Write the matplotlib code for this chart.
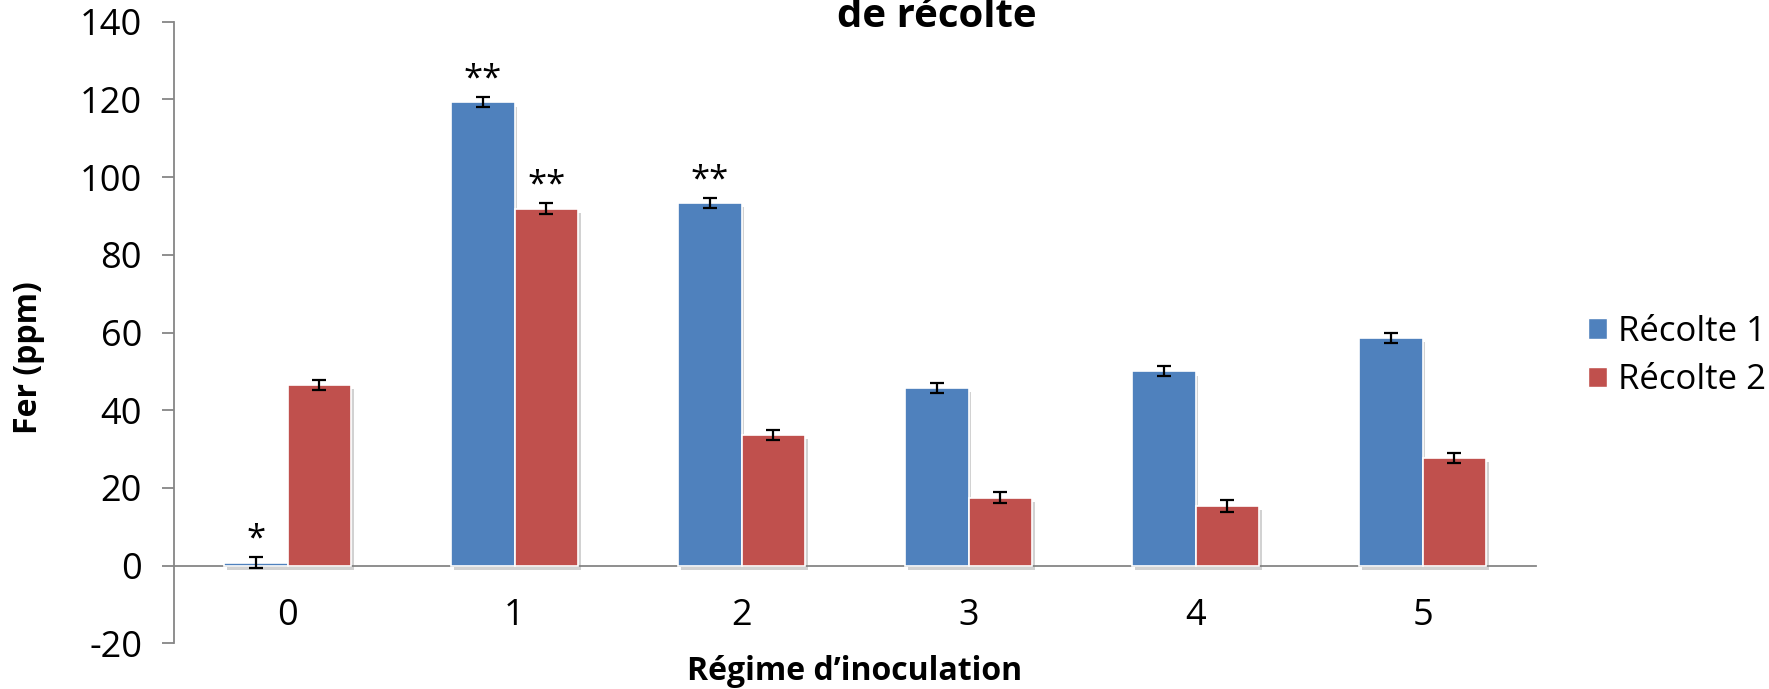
import matplotlib
matplotlib.use("Agg")
import matplotlib.pyplot as plt
import matplotlib.patches as mpatches
import matplotlib.patheffects as pe
import numpy as np

plt.rcParams.update({
    "font.family": ["Open Sans", "DejaVu Sans"],
    "font.size": 26,
    "axes.unicode_minus": False,
})

# ── Data ──────────────────────────────────────────────────────────────────────
regimes = ["0", "1", "2", "3", "4", "5"]
recolte1 = [0.8, 119.2, 93.3, 45.8, 50.0, 58.6]
recolte1_err = [1.4, 1.3, 1.3, 1.3, 1.3, 1.3]
recolte2 = [46.6, 91.9, 33.7, 17.5, 15.4, 27.7]
recolte2_err = [1.3, 1.4, 1.3, 1.4, 1.5, 1.4]
recolte1_sig = ["*", "**", "**", "", "", ""]
recolte2_sig = ["", "**", "", "", "", ""]

COL_R1 = "#4F81BD"
COL_R2 = "#C0504D"
AXIS_GREY = "#868686"

# ── Figure ────────────────────────────────────────────────────────────────────
fig = plt.figure(figsize=(17.69, 6.89), dpi=100)
ax = fig.add_axes([174 / 1769, 45.6 / 689, 1362 / 1769, 621.8 / 689])

x = np.arange(len(regimes))
bar_w = 0.28
shadow = [pe.SimplePatchShadow(offset=(2, -3), shadow_rgbFace="#7f7f7f", alpha=0.35),
          pe.Normal()]

for vals, errs, sig, col, off in [
    (recolte1, recolte1_err, recolte1_sig, COL_R1, -bar_w / 2),
    (recolte2, recolte2_err, recolte2_sig, COL_R2, bar_w / 2),
]:
    bars = ax.bar(x + off, vals, width=bar_w, color=col, edgecolor="white",
                  linewidth=1.2, zorder=3)
    for b in bars:
        b.set_path_effects(shadow)
    ax.errorbar(x + off, vals, yerr=errs, fmt="none", ecolor="black",
                elinewidth=1.6, capsize=4.8, capthick=1.6, zorder=4)
    for xi, v, e, s in zip(x + off, vals, errs, sig):
        if s:
            ax.text(xi, v + e + 2.2, s, ha="center", va="baseline",
                    fontsize=25, color="black", zorder=5)

# ── Axes ──────────────────────────────────────────────────────────────────────
ax.set_xlim(-0.5, len(regimes) - 0.5)
ax.set_ylim(-20, 140)
ax.set_yticks(np.arange(-20, 141, 20))
ax.set_xticks(x)
ax.set_xticklabels(regimes)

for side in ["top", "right"]:
    ax.spines[side].set_visible(False)
ax.spines["left"].set_color(AXIS_GREY)
ax.spines["left"].set_linewidth(1.3)
ax.spines["bottom"].set_position(("data", 0))
ax.spines["bottom"].set_color(AXIS_GREY)
ax.spines["bottom"].set_linewidth(1.3)

ax.tick_params(axis="y", direction="out", length=9, width=1.3,
               color=AXIS_GREY, pad=14, labelsize=26)
ax.tick_params(axis="x", length=0, pad=23, labelsize=26)

ax.set_xlabel("Régime d’inoculation", fontsize=23, fontweight="bold")
ax.xaxis.set_label_coords(0.5, -0.018)
ax.set_ylabel("Fer (ppm)", fontsize=23, fontweight="bold")
ax.yaxis.set_label_coords(-0.095, 0.46)

fig.text(937 / 1769, 1 - 27 / 689, "de récolte", ha="center", va="baseline",
         fontsize=29, fontweight="bold")

# ── Legend ────────────────────────────────────────────────────────────────────
handles = [
    mpatches.Patch(facecolor=COL_R1, edgecolor="white", label="Récolte 1"),
    mpatches.Patch(facecolor=COL_R2, edgecolor="white", label="Récolte 2"),
]
fig.legend(handles=handles, loc="center left",
           bbox_to_anchor=(1588 / 1769, 1 - 356 / 689), frameon=False,
           fontsize=25, handlelength=0.55, handleheight=0.55,
           handletextpad=0.3, labelspacing=0.42, borderpad=0,
           borderaxespad=0)

fig.savefig("out.png", dpi=100)
plt.close(fig)
